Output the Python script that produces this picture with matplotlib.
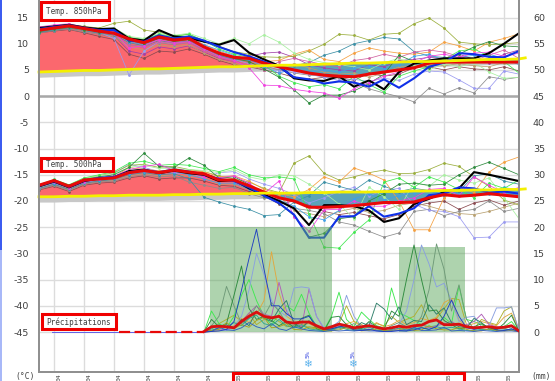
import numpy as np
import matplotlib
matplotlib.use("Agg")
import matplotlib.pyplot as plt
from matplotlib.patches import Rectangle

W, H = 555, 381

# forecast hours, 12 h steps for temperatures
hours = np.arange(0, 385, 12)
clim_hours = list(hours) + [389]

# 850 hPa, left axis in C
clim850 = [4.6,4.7,4.8,4.9,4.9,5.0,5.1,5.2,5.2,5.3,5.4,5.5,5.6,5.6,5.7,5.8,5.9,5.9,6.0,6.1,6.2,6.3,6.3,6.4,6.5,6.6,6.6,6.7,6.8,6.9,7.0,7.0,7.1,7.3]
mean850 = [12.6,13.0,13.4,12.9,12.4,12.0,10.9,10.2,11.3,10.7,11.0,9.4,8.2,7.4,7.2,6.3,5.6,5.0,4.4,4.0,3.8,3.7,4.2,4.6,5.0,5.4,6.3,6.5,6.5,6.5,6.5,6.5,6.5]
black850 = [13.0,13.3,13.6,13.1,12.8,12.9,11.0,10.6,12.6,11.4,11.1,10.4,9.8,10.7,8.3,7.0,5.8,3.4,3.0,2.9,3.8,1.8,3.0,1.3,4.6,6.2,6.8,7.2,7.2,7.2,8.2,10.0,12.0]
blue850 = [12.8,13.2,13.5,13.0,12.6,12.6,10.6,10.4,11.6,11.0,11.4,10.6,9.4,8.4,7.6,6.6,5.6,3.6,3.2,2.4,2.8,2.6,1.8,3.2,1.6,3.4,5.6,6.4,8.2,8.0,7.5,7.4,8.6]
olive850 = [12.9,13.4,13.7,13.3,13.0,13.9,14.3,12.6,12.2,11.5,11.8,10.5,9.5,8.5,8.0,7.5,7.4,7.6,8.6,9.9,11.8,11.6,10.7,11.8,12.0,13.8,14.9,13.0,10.3,10.0,9.8,10.0,10.2]
teal850 = [12.2,12.6,13.0,12.5,12.0,11.7,10.2,9.6,10.6,10.2,10.5,9.0,7.8,7.0,6.8,6.4,6.0,5.8,6.4,7.8,8.6,10.0,10.6,11.2,10.9,8.5,7.6,7.4,7.0,6.6,7.2,6.8,7.0]
orange850 = [12.4,12.9,13.2,12.6,12.4,12.8,11.0,10.6,11.7,11.2,11.4,9.8,8.6,7.6,7.2,6.6,6.8,8.0,8.8,7.0,6.6,8.2,9.2,8.6,8.2,8.0,8.4,10.3,9.6,8.6,10.3,11.0,11.9]
magenta850 = [13.2,13.6,13.8,13.2,12.8,12.2,9.2,9.6,10.8,10.2,10.4,9.0,7.6,6.8,5.4,2.1,2.0,1.3,0.9,0.6,-0.4,1.4,2.6,3.8,4.6,6.4,7.6,8.0,7.4,8.2,8.4,7.6,8.2]
grey850 = [12.0,12.5,12.8,12.2,11.8,11.2,9.8,9.4,10.2,9.8,10.2,8.8,7.6,6.8,6.4,5.8,5.0,4.4,4.0,3.8,3.4,2.6,1.4,0.6,-0.1,-1.1,1.5,0.4,1.6,0.6,3.7,3.2,3.6]
peri850 = [13.0,13.2,13.4,12.6,12.2,11.0,4.0,8.6,10.4,10.0,10.6,9.2,8.0,7.0,6.2,5.4,4.8,4.6,4.2,3.6,3.0,3.2,2.8,3.4,3.0,4.2,4.8,4.6,3.1,1.5,1.5,4.8,4.2]
lgreen850 = [12.7,13.1,13.3,13.0,12.6,13.0,11.4,11.0,12.0,11.6,12.0,11.0,10.0,11.0,10.0,11.7,10.3,8.2,7.0,6.4,6.0,5.6,5.0,6.4,7.2,6.0,5.0,6.2,5.6,6.4,4.6,3.4,3.6]
dgreen850 = [12.3,12.8,13.1,12.7,12.2,12.4,10.6,10.0,11.0,10.4,10.8,9.2,8.0,7.2,6.6,5.2,3.6,1.2,-1.3,0.2,0.2,1.0,2.4,4.2,7.8,6.6,5.4,6.6,8.0,9.4,10.4,9.6,9.4]
purple850 = [12.5,13.0,13.3,12.8,12.0,11.6,8.6,8.0,9.4,9.0,9.6,8.4,7.2,6.6,7.6,8.2,8.4,7.4,6.0,5.4,5.0,4.8,6.0,5.6,6.8,7.0,7.4,7.2,8.0,7.0,6.4,8.0,8.8]
brown850 = [12.1,12.4,12.7,12.1,11.4,10.8,8.0,7.2,8.6,8.4,9.0,8.0,6.8,6.0,5.6,5.0,4.4,3.6,3.2,3.6,3.6,3.0,4.4,3.8,4.2,5.4,5.6,5.0,5.6,5.2,5.0,5.6,4.8]
lime850 = [12.9,13.2,13.5,13.1,12.7,12.5,11.2,10.8,11.8,11.4,11.8,10.6,9.0,8.0,7.4,6.0,3.8,2.6,1.8,2.2,1.4,3.8,2.2,0.8,3.8,4.8,5.6,7.0,8.6,9.0,7.6,6.6,4.4]
sky850 = [12.5,12.9,13.2,12.8,12.4,12.2,10.4,9.8,11.0,10.6,11.0,9.8,8.8,7.8,7.0,5.6,4.4,5.2,4.6,5.0,4.6,5.4,5.8,5.2,6.0,7.6,8.0,6.8,7.4,7.8,8.0,7.2,6.0]
rose850 = [12.7,13.0,13.4,12.9,12.3,11.8,9.8,9.2,10.4,10.0,10.2,8.6,7.4,6.6,6.0,5.0,6.6,7.2,6.6,6.0,5.6,6.8,7.2,8.0,7.4,8.4,8.8,8.4,7.6,6.8,7.8,8.8,7.2]
tan850 = [12.3,12.7,13.1,12.6,12.1,11.4,9.4,8.8,9.8,9.4,9.8,8.2,7.0,6.2,5.8,5.4,5.0,6.2,5.4,4.6,4.2,4.4,3.6,4.4,5.6,5.8,6.0,5.8,6.2,5.8,5.6,6.4,6.8]

# 500 hPa, left axis in C
clim500 = [-19.2,-19.2,-19.1,-19.1,-19.0,-19.0,-18.9,-18.9,-18.9,-18.8,-18.8,-18.7,-18.7,-18.6,-18.6,-18.5,-18.5,-18.5,-18.4,-18.4,-18.3,-18.3,-18.3,-18.2,-18.2,-18.1,-18.1,-18.0,-18.0,-17.9,-17.9,-17.8,-17.8,-17.7]
mean500 = [-17.0,-16.1,-17.2,-16.0,-15.8,-15.6,-14.6,-14.2,-14.6,-14.1,-14.5,-14.8,-16.0,-16.0,-17.1,-18.3,-19.4,-20.0,-21.2,-21.2,-21.1,-20.9,-20.6,-20.3,-20.3,-20.2,-19.4,-18.8,-19.1,-18.9,-18.6,-18.9,-19.2]
black500 = [-17.2,-16.3,-17.4,-16.2,-15.7,-15.5,-14.3,-14.0,-14.7,-14.2,-14.7,-15.0,-16.2,-16.0,-17.6,-18.8,-20.0,-21.4,-24.6,-20.8,-20.8,-21.0,-21.8,-24.0,-23.3,-20.6,-19.6,-18.3,-17.6,-14.5,-15.0,-15.6,-16.2]
blue500 = [-17.1,-16.2,-17.3,-16.1,-15.6,-15.4,-14.5,-14.1,-14.5,-14.0,-14.4,-14.9,-15.8,-16.2,-17.4,-19.0,-20.4,-22.6,-27.0,-27.0,-23.0,-22.9,-21.0,-23.0,-22.4,-21.4,-18.9,-18.6,-17.4,-17.6,-18.4,-18.2,-18.6]
orange500 = [-17.4,-16.4,-17.6,-16.3,-15.9,-15.4,-13.6,-14.0,-14.2,-14.2,-14.2,-14.4,-15.4,-15.2,-16.2,-17.8,-18.6,-19.2,-17.8,-15.4,-16.4,-13.7,-14.7,-16.0,-20.0,-25.5,-25.5,-19.4,-17.4,-18.4,-14.5,-12.6,-11.6]
olive500 = [-17.3,-16.2,-17.1,-15.8,-15.2,-14.6,-13.2,-13.0,-13.6,-13.4,-14.0,-14.4,-15.2,-15.8,-16.4,-17.6,-18.4,-12.8,-11.4,-14.7,-16.0,-15.4,-14.6,-14.1,-14.8,-14.7,-14.0,-12.8,-13.4,-15.4,-17.2,-19.8,-20.8]
dgreen500 = [-17.0,-16.0,-17.0,-15.9,-15.4,-15.0,-13.6,-10.9,-13.4,-13.6,-11.8,-13.2,-15.6,-15.4,-16.8,-19.0,-20.4,-22.8,-26.9,-26.2,-23.4,-23.0,-20.0,-18.6,-16.8,-16.6,-17.0,-16.8,-15.0,-13.6,-12.6,-13.8,-15.0]
teal500 = [-17.6,-16.8,-17.8,-16.6,-16.2,-15.9,-15.0,-14.6,-15.0,-14.8,-15.8,-19.3,-20.2,-21.0,-21.6,-22.8,-22.6,-20.2,-19.0,-16.4,-17.2,-18.0,-16.0,-17.2,-18.2,-17.6,-18.0,-19.0,-18.2,-15.2,-14.8,-16.2,-16.8]
magenta500 = [-17.2,-16.4,-17.5,-16.4,-15.8,-15.3,-14.0,-13.4,-13.0,-14.2,-14.4,-15.4,-15.6,-15.2,-16.6,-18.6,-16.2,-23.0,-25.8,-21.7,-21.6,-20.0,-21.0,-21.0,-20.0,-19.4,-17.8,-17.6,-19.0,-15.4,-17.0,-18.4,-17.4]
grey500 = [-17.8,-17.0,-18.0,-16.8,-16.4,-16.2,-15.4,-15.0,-15.4,-15.2,-16.4,-17.0,-17.6,-17.4,-18.6,-19.4,-20.0,-21.4,-21.8,-22.4,-24.0,-24.6,-25.8,-26.9,-26.1,-22.0,-21.6,-22.8,-22.0,-21.6,-20.0,-22.0,-21.4]
peri500 = [-17.5,-16.6,-17.6,-16.5,-15.9,-14.8,-13.0,-13.6,-14.4,-14.8,-14.6,-15.6,-14.6,-14.4,-15.8,-16.8,-17.6,-18.8,-20.4,-19.4,-18.2,-17.4,-19.0,-18.0,-17.6,-20.6,-21.8,-22.0,-23.0,-27.0,-26.9,-24.0,-24.0]
lime500 = [-16.9,-15.9,-16.9,-15.6,-15.0,-14.4,-12.8,-12.4,-13.2,-13.0,-13.2,-13.8,-14.4,-13.6,-15.0,-15.6,-15.4,-15.8,-22.4,-28.8,-29.0,-26.0,-23.6,-16.4,-15.6,-17.4,-15.4,-16.4,-17.8,-19.4,-16.6,-17.6,-16.0]
lgreen500 = [-17.1,-16.2,-17.0,-15.7,-15.2,-14.8,-13.6,-13.2,-13.8,-13.8,-14.0,-14.2,-14.6,-14.0,-15.4,-16.0,-15.0,-15.2,-16.8,-18.4,-20.6,-23.4,-17.4,-19.2,-21.6,-16.4,-17.2,-15.0,-16.0,-16.6,-15.6,-19.4,-23.4]
brown500 = [-17.9,-17.2,-18.2,-17.0,-16.6,-16.4,-15.6,-15.2,-15.8,-15.6,-15.6,-16.2,-17.0,-17.2,-18.2,-19.0,-20.6,-20.0,-20.8,-22.0,-22.6,-22.2,-22.8,-23.4,-22.6,-21.0,-20.4,-20.0,-21.6,-20.4,-19.8,-20.8,-20.0]
sky500 = [-17.3,-16.5,-17.5,-16.4,-16.0,-15.7,-14.8,-14.4,-14.8,-14.4,-15.0,-15.8,-16.6,-16.6,-17.8,-18.8,-19.8,-21.0,-23.0,-23.6,-21.8,-19.6,-18.6,-19.8,-19.0,-18.4,-18.8,-17.8,-18.6,-17.8,-18.6,-17.4,-18.0]
tan500 = [-17.6,-16.9,-17.9,-16.8,-16.3,-16.0,-15.2,-14.8,-15.2,-15.0,-15.2,-15.6,-16.8,-16.8,-17.8,-19.2,-19.0,-21.8,-22.4,-23.0,-22.0,-21.4,-22.2,-21.8,-20.8,-20.4,-21.0,-21.8,-22.4,-22.6,-22.0,-21.2,-20.4]

# precipitation, right axis in mm, 6 h steps
p_hours = np.arange(132, 385, 6)
flat_hours = [64, 84, 92, 116, 122, 132]
flat_mm = [0, 0, 0, 0, 0, 0]
p_mean = [0.1,1.0,1.1,1.0,0.8,2.0,3.0,3.8,3.0,2.7,3.0,1.9,1.7,1.9,1.9,1.2,0.6,1.0,1.5,1.2,0.8,1.0,1.2,0.9,0.6,0.8,1.1,0.9,1.2,1.3,2.0,2.3,1.4,1.4,1.5,1.0,0.8,0.9,1.0,0.8,0.9,1.2,0.2]
p_blue = [0,0.1,0.2,0.5,2.0,8.0,14.0,19.6,12.0,5.0,5.0,3.5,2.5,2.5,3.0,1.2,0.5,0.6,1.0,1.2,0.4,0.3,0.5,0.2,0.1,0.1,0.3,0.2,0.4,0.8,0.5,1.0,3.0,6.1,3.0,0.8,0.5,0.8,1.0,0.4,0.3,0.6,0.1]
p_peri = [0,0.2,0.4,0.3,1.0,3.0,8.0,15.0,11.0,6.0,4.0,3.0,8.4,8.6,8.4,3.0,0.8,1.0,2.0,7.0,3.0,1.0,1.8,0.6,0.4,0.2,1.5,4.0,10.0,16.6,13.0,8.6,9.3,6.0,2.0,2.8,3.0,1.0,1.2,4.6,4.6,4.8,0.3]
p_orange = [0,0.1,0.3,0.6,1.2,2.6,1.8,3.4,6.0,15.3,7.5,3.0,2.0,1.4,1.6,0.8,0.4,0.6,0.8,1.6,2.0,1.0,0.8,1.8,1.0,1.4,2.2,1.4,1.8,2.6,2.2,2.8,5.6,6.4,2.2,1.2,1.6,2.0,1.6,1.2,2.8,3.6,0.2]
p_dgreen = [0,2.4,1.0,1.6,7.0,12.6,4.5,2.4,3.0,2.2,1.2,2.0,0.8,2.6,3.2,0.6,0.2,2.8,3.0,1.4,0.8,0.6,2.0,1.0,0.5,4.0,3.0,10.0,16.6,10.0,4.0,4.2,2.2,1.4,0.6,0.8,1.0,1.6,0.8,0.4,1.6,3.2,0.1]
p_greygreen = [0,1.2,3.0,8.7,5.0,1.6,2.6,5.0,3.0,5.6,4.0,1.6,1.2,0.8,2.2,0.8,0.3,0.4,0.6,1.0,1.6,0.6,0.4,1.0,0.4,1.2,1.8,1.0,0.6,3.0,8.0,16.8,12.0,4.0,9.0,2.4,0.6,0.6,0.4,0.8,0.6,1.0,0.2]
p_lime = [0,4.0,1.6,0.8,3.0,7.0,10.0,6.0,3.0,1.4,3.4,5.0,4.0,7.2,3.6,1.0,0.4,3.0,7.6,2.4,1.0,3.8,2.4,1.2,0.8,8.4,3.6,3.0,2.2,1.4,1.0,1.2,2.8,1.6,8.8,2.4,2.0,1.4,0.8,0.6,1.0,2.0,0.2]
p_purple = [0,0.2,0.6,0.4,1.0,2.0,3.6,5.0,3.4,3.0,9.5,4.0,2.0,1.0,8.2,3.0,0.6,0.8,1.2,0.8,0.4,0.4,0.6,0.3,0.2,0.4,0.6,0.4,0.8,1.4,0.8,1.2,1.6,2.0,1.2,1.4,2.0,3.4,1.4,1.0,0.8,1.2,0.1]
p_dark = [0,0.3,0.8,1.4,0.6,2.4,1.2,4.0,2.6,2.0,4.4,6.0,1.6,0.8,2.0,1.0,0.4,0.6,1.0,0.8,0.6,1.8,1.2,5.5,4.4,2.4,4.8,1.4,2.2,2.0,5.2,3.4,4.6,1.8,1.0,0.8,2.6,1.8,0.6,0.4,0.3,0.6,0.1]
p_olive = [0,1.0,1.6,2.4,3.2,2.0,3.6,1.4,2.4,3.0,2.0,1.0,1.2,1.6,0.8,0.6,0.2,0.6,1.6,5.0,2.0,1.4,0.8,1.6,1.2,3.0,1.8,2.4,3.0,5.2,2.0,2.6,4.4,6.4,6.2,1.4,0.6,2.4,1.8,1.4,4.0,4.8,0.1]
p_low1 = [0,0.6,1.4,0.9,1.8,1.2,2.6,3.2,1.6,1.2,2.4,1.2,0.8,1.4,0.6,0.4,0.2,0.4,0.9,0.5,0.3,0.5,0.9,0.4,0.2,0.5,0.7,0.4,0.6,0.9,0.5,1.0,0.7,0.9,0.6,0.3,0.3,0.5,0.4,0.2,0.4,0.5,0.1]
p_low2 = [0,0.3,0.5,1.8,0.7,1.4,0.9,2.2,2.8,0.8,1.0,1.6,0.5,0.4,1.0,0.8,0.3,0.2,0.4,0.8,0.5,0.2,0.3,0.6,0.3,0.3,0.4,0.9,0.3,0.4,1.2,0.6,0.4,0.4,0.9,0.5,0.2,0.2,0.6,0.3,0.2,0.3,0.1]
p_low3 = [0,0.1,0.9,0.4,0.3,0.8,1.8,1.0,0.6,1.6,0.6,0.3,1.0,0.6,0.3,0.2,0.1,0.3,0.2,0.3,0.2,0.3,0.2,0.2,0.1,0.2,0.2,0.2,0.9,0.3,0.3,0.4,0.9,0.2,0.3,0.2,0.1,0.3,0.2,0.1,0.2,0.2,0.1]

# shaded precipitation bands: start hour, end hour, top in mm
band_starts = [137, 288]
band_ends = [234, 341]
band_tops = [20.0, 16.3]

# axis ticks
left_ticks = list(range(15, -50, -5))
right_ticks = list(range(60, -5, -5))
x_ticks = list(range(12, 385, 24))
date_labels = ["04"] * 6 + ["05"] * 10
snow_hours = [215, 251]

members850 = [(purple850, "#a040a8"), (brown850, "#8a4a50"), (tan850, "#b8a070"), (grey850, "#8c8c8c"), (peri850, "#9a9af0"),
              (olive850, "#9aae3c"), (teal850, "#3a8fa5"), (orange850, "#f5a040"), (lgreen850, "#a8f0a0"),
              (sky850, "#40a0e8"), (rose850, "#d060a0"), (lime850, "#40e850"), (dgreen850, "#2e8b3e"), (magenta850, "#f040e0")]
members500 = [(brown500, "#8a4a50"), (tan500, "#b8a070"), (grey500, "#8c8c8c"), (peri500, "#9a9af0"), (olive500, "#9aae3c"),
              (teal500, "#3a8fa5"), (orange500, "#f5a040"), (lgreen500, "#a8f0a0"), (sky500, "#40a0e8"), (lime500, "#40e850"),
              (dgreen500, "#2e8b3e"), (magenta500, "#f040e0")]
members_p = [(p_olive, "#b0b030"), (p_lime, "#40e850"), (p_orange, "#e0a840"), (p_purple, "#b060b8"),
             (p_peri, "#8aa0e0"), (p_greygreen, "#6f9a78"), (p_dark, "#2f7f6a"), (p_dgreen, "#2e8b3e"),
             (p_low1, "#30a890"), (p_low2, "#a8a020"), (p_low3, "#3060c0"), (p_blue, "#2040c0")]

plt.rcParams["font.family"] = "DejaVu Sans Mono"

fig = plt.figure(figsize=(W / 100, H / 100), dpi=100)
ax = fig.add_axes([39 / W, 1 - 372 / H, 480 / W, 372 / H])
ax.set_xlim(0, 384)
ax.set_ylim(-52.63, 18.34)

ax2 = ax.twinx()
ax2.set_ylim(-52.63 + 45, 18.34 + 45)


def draw_temp(clim, mean, members, black, blue):
    clim_h = np.array(clim[:33])
    m = np.array(mean)
    ax.fill_between(hours, clim_h - 1.0, clim_h, color="#c8c8c8", lw=0, zorder=1.5)
    ax.fill_between(hours, clim_h, m, where=m >= clim_h, interpolate=True, color="#fb686e", lw=0, zorder=2)
    ax.fill_between(hours, clim_h, m, where=m <= clim_h, interpolate=True, color="#5ba3b8", lw=0, zorder=2)
    for vals, col in members:
        ax.plot(hours, vals, color=col, lw=0.55, marker="o", ms=1.0, zorder=3)
    ax.plot(hours, black, color="black", lw=1.5, zorder=4)
    ax.plot(hours, blue, color="#1030e8", lw=1.5, zorder=4)
    ax.plot(hours, mean, color="#e80808", lw=2.2, zorder=5)
    ax.plot(clim_hours, clim, color="#f4f000", lw=2.0, zorder=6, clip_on=False)


draw_temp(clim850, mean850, members850, black850, blue850)
draw_temp(clim500, mean500, members500, black500, blue500)

for start, end, top in zip(band_starts, band_ends, band_tops):
    ax2.bar((start + end) / 2, top, width=end - start, color="#5ea85e", alpha=0.5, lw=0, zorder=1)

for vals, col in members_p:
    ax2.plot(p_hours, vals, color=col, lw=0.65, zorder=3)
ax2.plot(p_hours, p_mean, color="#d81010", lw=2.0, zorder=5)
ax2.plot([10, 132], [0, 0], color="#6060e8", lw=0.7, zorder=3)
ax2.plot(flat_hours, flat_mm, color="#e80808", lw=1.6, ls=(0, (5, 2)), zorder=5)

# grid and frame
ax.set_xticks(x_ticks)
ax.set_yticks(left_ticks)
ax2.set_yticks(right_ticks)
ax.set_xticklabels([])
ax.grid(True, color="#dcdcdc", lw=1.0)
ax.set_axisbelow(True)
ax.axhline(0, color="#a8a8a8", lw=1.8, zorder=1.2)
ax.set_zorder(1)
ax2.set_zorder(2)
ax.tick_params(length=0, labelsize=6.8, labelcolor="#404040", pad=7)
ax2.tick_params(length=0, labelsize=6.8, labelcolor="#404040", pad=10)
ax.set_yticklabels([str(t) for t in left_ticks], fontfamily="DejaVu Sans")
ax2.set_yticklabels([str(t) for t in right_ticks], fontfamily="DejaVu Sans")
for a in (ax, ax2):
    a.spines["top"].set_visible(False)
    for s in ("left", "bottom", "right"):
        a.spines[s].set_color("#909090")
        a.spines[s].set_linewidth(1.3)


def fx(px):
    return px / W


def fy(py):
    return 1 - py / H


def red_box(x0, y0, x1, y1):
    fig.add_artist(Rectangle((fx(x0), fy(y1)), fx(x1 - x0), (y1 - y0) / H, fill=True, fc="white",
                             ec="#f00000", lw=2.2, transform=fig.transFigure, clip_on=False, zorder=20))


red_box(41, 2, 109, 20)
red_box(41, 158, 113, 171)
red_box(42, 314, 116, 329)
red_box(233, 373, 464, 395)
for x, y, s in [(46, 11, "Temp. 850hPa"), (46, 164.5, "Temp. 500hPa"), (46, 322, "Précipitations")]:
    fig.text(fx(x), fy(y), s, fontsize=5.5, color="#404040", va="center", zorder=21)
fig.text(fx(15), fy(377), "(°C)", fontsize=5.8, color="#404040", va="center", zorder=21)
fig.text(fx(531), fy(377), "(mm)", fontsize=5.8, color="#404040", va="center", zorder=21)

# date labels run along the lower edge of the picture
for h, lab in zip(x_ticks, date_labels):
    fig.text(fx(39 + h * 1.25 + 5), fy(373.5), lab, rotation=90, fontsize=4.6, color="#404040",
             ha="center", va="top", zorder=22)

for h in snow_hours:
    ax2.annotate("5%", (h, -7.63), xytext=(0, 14), textcoords="offset pixels", rotation=90, fontsize=4.6,
                 color="#3040e0", ha="center", va="bottom", annotation_clip=False, zorder=8)
    ax2.annotate("\u2744", (h, -7.63), xytext=(0, 8), textcoords="offset pixels", fontsize=7.5,
                 color="#58b0ec", ha="center", va="center", family="DejaVu Sans", zorder=8)

# blue strip on the left edge
fig.add_artist(Rectangle((0, fy(250)), 2 / W, 250 / H, fc="#3c5cf0", lw=0, transform=fig.transFigure))
fig.add_artist(Rectangle((0, 0), 2 / W, 131 / H, fc="#a8b8f8", lw=0, transform=fig.transFigure))

fig.savefig("out.png", dpi=100)
